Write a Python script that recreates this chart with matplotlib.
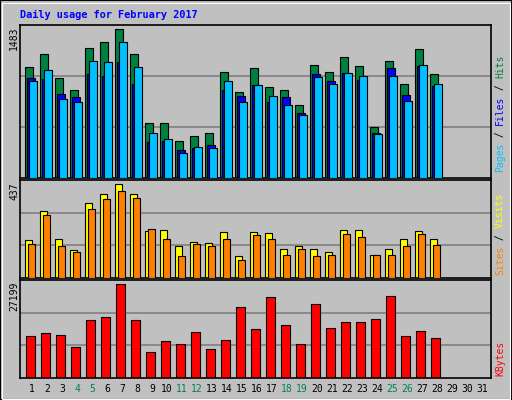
import matplotlib
matplotlib.use("Agg")
import matplotlib.pyplot as plt
from matplotlib.patches import Rectangle
import numpy as np

days = list(range(1, 29))
hits = [1107,1241,1000,879,1292,1352,1483,1241,547,547,366,416,446,1060,859,1100,909,879,728,1131,1060,1211,1121,507,1171,939,1282,1040]
files = [1000,990,839,809,1033,1013,1154,933,356,369,275,295,325,882,819,929,762,809,648,1040,970,1050,980,446,1100,829,1121,919]
pages = [970,1080,788,758,1171,1161,1352,1111,446,386,245,305,295,970,758,929,819,728,627,1010,939,1050,1020,436,1020,768,1131,939]
visits = [175,313,180,132,351,394,437,394,218,222,151,170,165,213,103,213,208,137,151,137,122,222,222,108,137,184,218,180]
sites = [160,294,151,122,323,370,404,375,227,184,103,160,151,184,84,199,184,108,137,103,108,203,189,108,108,151,203,156]
kbytes = [12254,13151,12553,8967,16738,17635,27199,16738,7472,10760,9863,13450,8369,11059,20623,14347,23612,15243,9863,21520,14646,16140,16140,17037,23911,12254,13749,11657]
weekend_days = [4, 5, 11, 12, 18, 19, 25, 26]
all_days = list(range(1, 32))
title = "Daily usage for February 2017"

BG = "#c0c0c0"
W, H = 512, 400
fig = plt.figure(figsize=(5.12, 4.0), dpi=100, facecolor=BG)
MONO = "DejaVu Sans Mono"

fig.patches.append(Rectangle((0, 0), 1, 1, transform=fig.transFigure, fill=False, ec="black", lw=1.5))
fig.patches.append(Rectangle((1.5/W, 1.5/H), 1-4/W, 1-4/H, transform=fig.transFigure, fill=False, ec="white", lw=0.8))

fig.text(20/W, 1-15/H, title, color="#0000ff", fontsize=7.4, fontweight="bold", family=MONO, va="center", ha="left")

x0 = 0.2
span = 470.7/15
px = 1/15
d = np.array(days, dtype=float)

def mkax(top, bottom):
    ax = fig.add_axes([20/W, 1-bottom/H, 470.7/W, (bottom-top)/H])
    ax.set_facecolor(BG)
    ax.set_xlim(x0, x0+span)
    ax.set_xticks([]); ax.set_yticks([])
    for s in ax.spines.values():
        s.set_linewidth(1.2); s.set_color("black")
    return ax

def setup_y(ax, vmax, hpx):
    top = vmax*hpx/(hpx-4.3)
    ax.set_ylim(0, top)
    for f in (1/3, 2/3):
        ax.axhline(top*f, color="#808080", lw=1.2, zorder=0)

lw = 0.8
ax1 = mkax(25, 178)
setup_y(ax1, max(hits), 153)
ax1.bar(d - 7*px, hits, width=8*px, align="edge", color="#008040", ec="black", lw=lw, zorder=2)
ax1.bar(d - 5*px, files, width=8*px, align="edge", color="#0000ff", ec="black", lw=lw, zorder=3)
ax1.bar(d - 3*px, pages, width=7.7*px, align="edge", color="#00c0ff", ec="black", lw=lw, zorder=4)

ax2 = mkax(180, 278)
setup_y(ax2, max(visits), 98)
ax2.bar(d - 7.3*px, visits, width=7.7*px, align="edge", color="#ffff00", ec="black", lw=lw, zorder=2)
ax2.bar(d - 4*px, sites, width=7.3*px, align="edge", color="#ff8000", ec="black", lw=lw, zorder=3)

ax3 = mkax(280, 378)
setup_y(ax3, max(kbytes), 98)
ax3.bar(d - 6.3*px, kbytes, width=9.7*px, align="edge", color="#ff0000", ec="black", lw=lw, zorder=2)

for dd in all_days:
    col = "#008060" if dd in weekend_days else "black"
    xf = (20 + (dd - x0)*15)/W
    fig.text(xf, 1-389/H, str(dd), color=col, fontsize=7, family=MONO, ha="center", va="center")

for val, top in ((max(hits), 25), (max(visits), 180), (max(kbytes), 280)):
    fig.text(14/W, 1-(top+2)/H, str(val), rotation=90, fontsize=7, family=MONO, ha="center", va="top")

fig.canvas.draw()
rend = fig.canvas.get_renderer()
def stack(parts, bottom_px):
    y = bottom_px
    for txt, col in parts:
        t = fig.text(500/W, 1-y/H, txt, rotation=90, color=col, fontsize=7, family=MONO, ha="center", va="bottom")
        bb = t.get_window_extent(rend)
        y -= bb.height
stack([("Pages", "#00c0ff"), (" / ", "black"), ("Files", "#0000ff"), (" / ", "black"), ("Hits", "#008040")], 172)
stack([("Sites", "#ff8000"), (" / ", "black"), ("Visits", "#ffff00")], 275)
stack([("KBytes", "#ff0000")], 376)

fig.savefig("out.png", dpi=100, facecolor=BG)
